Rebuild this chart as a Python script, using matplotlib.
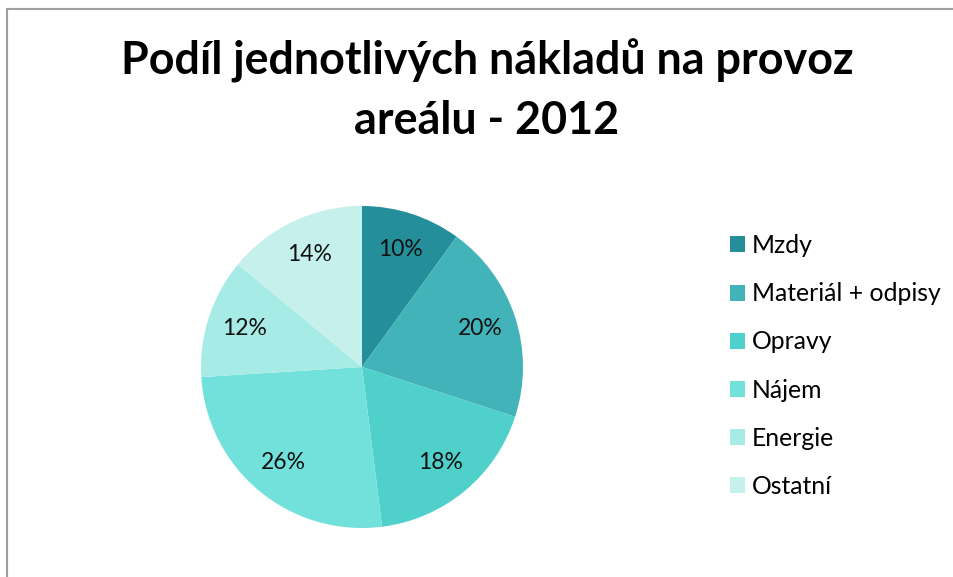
import matplotlib.pyplot as plt
from matplotlib.patches import Patch
from matplotlib.lines import Line2D

plt.rcParams['font.family'] = ['Lato', 'DejaVu Sans']

# data
categories = ['Mzdy', 'Materiál + odpisy', 'Opravy', 'Nájem', 'Energie', 'Ostatní']
shares = [10, 20, 18, 26, 12, 14]
colors = ['#248F9B', '#42B3B8', '#50D0CB', '#73E1DB', '#A6EBE5', '#C5F0EC']

W, H = 954, 577
fig = plt.figure(figsize=(W / 100, H / 100), dpi=100)

# outer chart border (top and left visible)
fig.add_artist(Line2D([7 / W, 7 / W], [0, 1 - 8.5 / H], color='#a0a0a0', lw=1.5))
fig.add_artist(Line2D([7 / W, 1], [1 - 8.5 / H, 1 - 8.5 / H], color='#a0a0a0', lw=1.5))

# pie axes: center (362, 367), radius 161 px
r = 161
cx, cy = 362, 367
ax = fig.add_axes([(cx - r) / W, 1 - (cy + r) / H, 2 * r / W, 2 * r / H])
ax.pie(shares, colors=colors, startangle=90, counterclock=False,
       autopct='%1.0f%%', pctdistance=0.77, radius=1,
       textprops={'fontsize': 16.5, 'color': '#111111'})
ax.set_xlim(-1, 1)
ax.set_ylim(-1, 1)
ax.set_aspect('equal')

fig.text(487 / W, 1 - 90 / H, 'Podíl jednotlivých nákladů na provoz\nareálu - 2012',
         ha='center', va='center', fontsize=32.3, fontweight='bold', linespacing=1.5)

handles = [Patch(facecolor=c, edgecolor='none') for c in colors]
fig.legend(handles, categories, loc='upper left', bbox_to_anchor=(730 / W, 1 - 234 / H),
           frameon=False, fontsize=17.8, handlelength=0.62, handleheight=0.62,
           handletextpad=0.28, labelspacing=1.02, borderaxespad=0, borderpad=0)

fig.savefig('out.png', dpi=100)
